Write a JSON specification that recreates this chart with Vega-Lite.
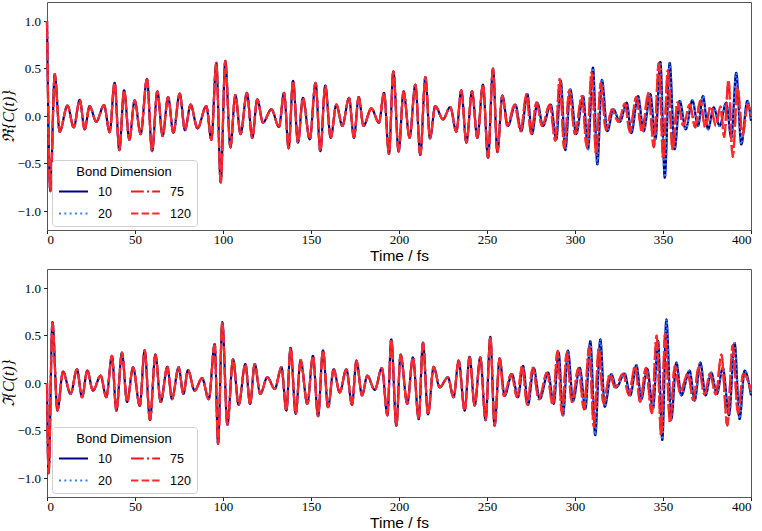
{
"$schema":"https://vega.github.io/schema/vega-lite/v6.json",
"padding":{"left":0,"top":1,"right":9,"bottom":0},
"spacing":3,
"datasets":{"d":[
{"p":"re","t":0,"b":1,"r":1},{"p":"re","t":1.9,"b":-0.79,"r":-0.79},{"p":"re","t":4.4,"b":0.44,"r":0.44},{"p":"re","t":7.2,"b":-0.165,"r":-0.165},{"p":"re","t":11.6,"b":0.11,"r":0.11},{"p":"re","t":15.2,"b":-0.12,"r":-0.12},{"p":"re","t":18.6,"b":0.17,"r":0.17},{"p":"re","t":21.4,"b":-0.14,"r":-0.14},{"p":"re","t":24.2,"b":0.105,"r":0.105},{"p":"re","t":28,"b":-0.06,"r":-0.06},{"p":"re","t":32.4,"b":0.115,"r":0.115},{"p":"re","t":35.6,"b":-0.17,"r":-0.17},{"p":"re","t":38.4,"b":0.35,"r":0.35},{"p":"re","t":41.1,"b":-0.36,"r":-0.36},{"p":"re","t":43.8,"b":0.27,"r":0.27},{"p":"re","t":46.8,"b":-0.25,"r":-0.25},{"p":"re","t":49.8,"b":0.165,"r":0.165},{"p":"re","t":53.2,"b":-0.19,"r":-0.19},{"p":"re","t":56.8,"b":0.39,"r":0.39},{"p":"re","t":59.7,"b":-0.37,"r":-0.37},{"p":"re","t":62.7,"b":0.26,"r":0.26},{"p":"re","t":65.7,"b":-0.21,"r":-0.21},{"p":"re","t":68.8,"b":0.2,"r":0.2},{"p":"re","t":71.8,"b":-0.175,"r":-0.175},{"p":"re","t":75.4,"b":0.235,"r":0.235},{"p":"re","t":78.4,"b":-0.15,"r":-0.15},{"p":"re","t":81.6,"b":0.12,"r":0.12},{"p":"re","t":85.5,"b":-0.13,"r":-0.13},{"p":"re","t":90.5,"b":0.105,"r":0.105},{"p":"re","t":93.4,"b":-0.25,"r":-0.25},{"p":"re","t":96.2,"b":0.56,"r":0.56},{"p":"re","t":98.7,"b":-0.7,"r":-0.7},{"p":"re","t":101.3,"b":0.58,"r":0.58},{"p":"re","t":104.2,"b":-0.33,"r":-0.33},{"p":"re","t":107,"b":0.22,"r":0.22},{"p":"re","t":110,"b":-0.19,"r":-0.19},{"p":"re","t":113.6,"b":0.245,"r":0.245},{"p":"re","t":116.6,"b":-0.23,"r":-0.23},{"p":"re","t":119.5,"b":0.175,"r":0.175},{"p":"re","t":122.7,"b":-0.07,"r":-0.07},{"p":"re","t":127.5,"b":0.07,"r":0.07},{"p":"re","t":131.8,"b":-0.115,"r":-0.115},{"p":"re","t":134.7,"b":0.245,"r":0.245},{"p":"re","t":137.3,"b":-0.34,"r":-0.34},{"p":"re","t":139.8,"b":0.37,"r":0.37},{"p":"re","t":142.6,"b":-0.28,"r":-0.28},{"p":"re","t":145.4,"b":0.19,"r":0.19},{"p":"re","t":149.3,"b":-0.245,"r":-0.245},{"p":"re","t":152.6,"b":0.35,"r":0.35},{"p":"re","t":155.3,"b":-0.37,"r":-0.37},{"p":"re","t":158.1,"b":0.32,"r":0.32},{"p":"re","t":161.2,"b":-0.23,"r":-0.23},{"p":"re","t":164.4,"b":0.12,"r":0.12},{"p":"re","t":167.8,"b":-0.105,"r":-0.105},{"p":"re","t":171.6,"b":0.19,"r":0.19},{"p":"re","t":174.4,"b":-0.23,"r":-0.23},{"p":"re","t":177.1,"b":0.2,"r":0.2},{"p":"re","t":179.8,"b":-0.105,"r":-0.105},{"p":"re","t":184.3,"b":0.08,"r":0.08},{"p":"re","t":188.6,"b":-0.07,"r":-0.07},{"p":"re","t":191.5,"b":0.245,"r":0.245},{"p":"re","t":194.3,"b":-0.4,"r":-0.4},{"p":"re","t":196.8,"b":0.47,"r":0.47},{"p":"re","t":199.8,"b":-0.375,"r":-0.375},{"p":"re","t":202.6,"b":0.26,"r":0.26},{"p":"re","t":206,"b":-0.23,"r":-0.23},{"p":"re","t":209.3,"b":0.33,"r":0.33},{"p":"re","t":212.1,"b":-0.41,"r":-0.41},{"p":"re","t":215,"b":0.41,"r":0.41},{"p":"re","t":217.6,"b":-0.235,"r":-0.235},{"p":"re","t":220.6,"b":0.105,"r":0.105},{"p":"re","t":225,"b":-0.035,"r":-0.035},{"p":"re","t":229.1,"b":0.095,"r":0.095},{"p":"re","t":232.6,"b":-0.165,"r":-0.165},{"p":"re","t":235.4,"b":0.27,"r":0.27},{"p":"re","t":238.3,"b":-0.28,"r":-0.28},{"p":"re","t":241.5,"b":0.26,"r":0.26},{"p":"re","t":244.5,"b":-0.23,"r":-0.23},{"p":"re","t":247.7,"b":0.33,"r":0.33},{"p":"re","t":250.6,"b":-0.44,"r":-0.44},{"p":"re","t":253.4,"b":0.5,"r":0.5},{"p":"re","t":255.9,"b":-0.38,"r":-0.38},{"p":"re","t":258.7,"b":0.215,"r":0.215},
{"p":"re","t":261.9,"b":-0.105},{"p":"re","t":266.1,"b":0.12},{"p":"re","t":269.5,"b":-0.16},{"p":"re","t":272.9,"b":0.23},{"p":"re","t":275.6,"b":-0.19},{"p":"re","t":278.6,"b":0.14},{"p":"re","t":281.8,"b":-0.105},{"p":"re","t":286.2,"b":0.12},{"p":"re","t":289.4,"b":-0.245},{"p":"re","t":291.9,"b":0.37},{"p":"re","t":294.5,"b":-0.36},{"p":"re","t":297.3,"b":0.28},{"p":"re","t":300.7,"b":-0.19},{"p":"re","t":304.6,"b":0.21},{"p":"re","t":307.4,"b":-0.35},{"p":"re","t":310.2,"b":0.51},{"p":"re","t":312.7,"b":-0.51},{"p":"re","t":315.3,"b":0.38},{"p":"re","t":318.4,"b":-0.16},{"p":"re","t":321.8,"b":0.07},{"p":"re","t":325.5,"b":-0.06},{"p":"re","t":329.4,"b":0.14},{"p":"re","t":332,"b":-0.18},{"p":"re","t":335.8,"b":0.21},{"p":"re","t":339,"b":-0.16},{"p":"re","t":342.8,"b":0.23},{"p":"re","t":345.7,"b":-0.245},{"p":"re","t":348.5,"b":0.57},{"p":"re","t":351,"b":-0.65},{"p":"re","t":353.8,"b":0.56},{"p":"re","t":356.6,"b":-0.35},{"p":"re","t":359.5,"b":0.16},{"p":"re","t":362.9,"b":-0.14},{"p":"re","t":366.7,"b":0.165},{"p":"re","t":369.9,"b":-0.105},{"p":"re","t":372.7,"b":0.21},{"p":"re","t":375.6,"b":-0.14},{"p":"re","t":378.8,"b":0.09},{"p":"re","t":382.2,"b":-0.105},{"p":"re","t":385.9,"b":0.14},{"p":"re","t":388.8,"b":-0.23},{"p":"re","t":391.6,"b":0.455},{"p":"re","t":394.5,"b":-0.3},{"p":"re","t":397.9,"b":0.16},{"p":"re","t":400,"b":-0.05},
{"p":"re","t":261.6,"r":-0.105},{"p":"re","t":265.7,"r":0.12},{"p":"re","t":269.1,"r":-0.16},{"p":"re","t":272.4,"r":0.23},{"p":"re","t":275.1,"r":-0.19},{"p":"re","t":278.1,"r":0.14},{"p":"re","t":281.3,"r":-0.105},{"p":"re","t":285.6,"r":0.12},{"p":"re","t":288.8,"r":-0.26},{"p":"re","t":291.3,"r":0.39},{"p":"re","t":293.9,"r":-0.34},{"p":"re","t":296.7,"r":0.27},{"p":"re","t":300,"r":-0.19},{"p":"re","t":303.9,"r":0.21},{"p":"re","t":306.7,"r":-0.33},{"p":"re","t":309.4,"r":0.46},{"p":"re","t":312,"r":-0.4},{"p":"re","t":314.6,"r":0.35},{"p":"re","t":317.6,"r":-0.15},{"p":"re","t":321,"r":0.07},{"p":"re","t":324.6,"r":-0.06},{"p":"re","t":328.4,"r":0.13},{"p":"re","t":331.1,"r":-0.17},{"p":"re","t":334.8,"r":0.2},{"p":"re","t":338,"r":-0.17},{"p":"re","t":341.7,"r":0.24},{"p":"re","t":344.8,"r":-0.33},{"p":"re","t":347.6,"r":0.56},{"p":"re","t":350.1,"r":-0.45},{"p":"re","t":352.7,"r":0.48},{"p":"re","t":355.4,"r":-0.35},{"p":"re","t":358.2,"r":0.14},{"p":"re","t":361.5,"r":-0.1},{"p":"re","t":365.2,"r":0.12},{"p":"re","t":368.3,"r":-0.12},{"p":"re","t":371.1,"r":0.16},{"p":"re","t":374,"r":-0.12},{"p":"re","t":377,"r":0.1},{"p":"re","t":380,"r":-0.1},{"p":"re","t":382.6,"r":0.1},{"p":"re","t":384.8,"r":-0.22},{"p":"re","t":387.2,"r":0.38},{"p":"re","t":389.6,"r":-0.43},{"p":"re","t":392.4,"r":0.3},{"p":"re","t":395.2,"r":-0.2},{"p":"re","t":398.2,"r":0.12},{"p":"re","t":400,"r":0},
{"p":"im","t":0,"b":0,"r":0},{"p":"im","t":0.9,"b":-0.95,"r":-0.95},{"p":"im","t":3.1,"b":0.64,"r":0.64},{"p":"im","t":5.9,"b":-0.29,"r":-0.29},{"p":"im","t":9.1,"b":0.12,"r":0.12},{"p":"im","t":13.4,"b":-0.115,"r":-0.115},{"p":"im","t":17,"b":0.145,"r":0.145},{"p":"im","t":19.9,"b":-0.15,"r":-0.15},{"p":"im","t":22.9,"b":0.13,"r":0.13},{"p":"im","t":26.1,"b":-0.08,"r":-0.08},{"p":"im","t":30.5,"b":0.077,"r":0.077},{"p":"im","t":33.7,"b":-0.15,"r":-0.15},{"p":"im","t":36.9,"b":0.285,"r":0.285},{"p":"im","t":39.4,"b":-0.29,"r":-0.29},{"p":"im","t":42.6,"b":0.32,"r":0.32},{"p":"im","t":45.5,"b":-0.2,"r":-0.2},{"p":"im","t":48.9,"b":0.165,"r":0.165},{"p":"im","t":52.7,"b":-0.24,"r":-0.24},{"p":"im","t":55.5,"b":0.345,"r":0.345},{"p":"im","t":58.5,"b":-0.39,"r":-0.39},{"p":"im","t":61.6,"b":0.3,"r":0.3},{"p":"im","t":64.6,"b":-0.2,"r":-0.2},{"p":"im","t":68.4,"b":0.17,"r":0.17},{"p":"im","t":71,"b":-0.17,"r":-0.17},{"p":"im","t":74.8,"b":0.165,"r":0.165},{"p":"im","t":77.5,"b":-0.115,"r":-0.115},{"p":"im","t":80.1,"b":0.136,"r":0.136},{"p":"im","t":83.9,"b":-0.08,"r":-0.08},{"p":"im","t":88.1,"b":0.052,"r":0.052},{"p":"im","t":91.9,"b":-0.17,"r":-0.17},{"p":"im","t":95.3,"b":0.41,"r":0.41},{"p":"im","t":97.2,"b":-0.64,"r":-0.64},{"p":"im","t":99.6,"b":0.64,"r":0.64},{"p":"im","t":102.5,"b":-0.44,"r":-0.44},{"p":"im","t":105.7,"b":0.25,"r":0.25},{"p":"im","t":108.9,"b":-0.23,"r":-0.23},{"p":"im","t":112.7,"b":0.2,"r":0.2},{"p":"im","t":115.4,"b":-0.22,"r":-0.22},{"p":"im","t":118,"b":0.2,"r":0.2},{"p":"im","t":121.2,"b":-0.115,"r":-0.115},{"p":"im","t":125.2,"b":0.06,"r":0.06},{"p":"im","t":129.4,"b":-0.063,"r":-0.063},{"p":"im","t":133.2,"b":0.165,"r":0.165},{"p":"im","t":136,"b":-0.29,"r":-0.29},{"p":"im","t":138.4,"b":0.37,"r":0.37},{"p":"im","t":141.3,"b":-0.325,"r":-0.325},{"p":"im","t":144.1,"b":0.24,"r":0.24},{"p":"im","t":147.9,"b":-0.22,"r":-0.22},{"p":"im","t":151.1,"b":0.285,"r":0.285},{"p":"im","t":154,"b":-0.35,"r":-0.35},{"p":"im","t":156.8,"b":0.345,"r":0.345},{"p":"im","t":159.7,"b":-0.255,"r":-0.255},{"p":"im","t":162.9,"b":0.145,"r":0.145},{"p":"im","t":166.3,"b":-0.1,"r":-0.1},{"p":"im","t":170.1,"b":0.145,"r":0.145},{"p":"im","t":173.3,"b":-0.23,"r":-0.23},{"p":"im","t":175.8,"b":0.235,"r":0.235},{"p":"im","t":179,"b":-0.13,"r":-0.13},{"p":"im","t":182,"b":0.077,"r":0.077},{"p":"im","t":186.2,"b":-0.073,"r":-0.073},{"p":"im","t":190.3,"b":0.157,"r":0.157},{"p":"im","t":193.4,"b":-0.34,"r":-0.34},{"p":"im","t":195.6,"b":0.46,"r":0.46},{"p":"im","t":198.5,"b":-0.45,"r":-0.45},{"p":"im","t":200.9,"b":0.3,"r":0.3},{"p":"im","t":204.7,"b":-0.22,"r":-0.22},{"p":"im","t":207.9,"b":0.27,"r":0.27},{"p":"im","t":211.2,"b":-0.38,"r":-0.38},{"p":"im","t":213.6,"b":0.425,"r":0.425},{"p":"im","t":216.5,"b":-0.33,"r":-0.33},{"p":"im","t":219.7,"b":0.17,"r":0.17},{"p":"im","t":223.1,"b":-0.045,"r":-0.045},{"p":"im","t":227.8,"b":0.06,"r":0.06},{"p":"im","t":231,"b":-0.15,"r":-0.15},{"p":"im","t":233.9,"b":0.235,"r":0.235},{"p":"im","t":237.3,"b":-0.29,"r":-0.29},{"p":"im","t":240.1,"b":0.275,"r":0.275},{"p":"im","t":243,"b":-0.237,"r":-0.237},{"p":"im","t":246.2,"b":0.27,"r":0.27},{"p":"im","t":249.2,"b":-0.39,"r":-0.39},{"p":"im","t":251.9,"b":0.485,"r":0.485},{"p":"im","t":254.3,"b":-0.45,"r":-0.45},{"p":"im","t":257.2,"b":0.26,"r":0.26},
{"p":"im","t":260,"b":-0.135},{"p":"im","t":264.2,"b":0.094},{"p":"im","t":267.6,"b":-0.15},{"p":"im","t":270.5,"b":0.18},{"p":"im","t":273.3,"b":-0.23},{"p":"im","t":276.5,"b":0.16},{"p":"im","t":280,"b":-0.17},{"p":"im","t":284.7,"b":0.11},{"p":"im","t":287.9,"b":-0.22},{"p":"im","t":290.7,"b":0.32},{"p":"im","t":293.2,"b":-0.34},{"p":"im","t":296,"b":0.34},{"p":"im","t":298.9,"b":-0.19},{"p":"im","t":302.7,"b":0.16},{"p":"im","t":305.9,"b":-0.27},{"p":"im","t":308.7,"b":0.44},{"p":"im","t":311.5,"b":-0.55},{"p":"im","t":314.4,"b":0.46},{"p":"im","t":316.9,"b":-0.25},{"p":"im","t":320.6,"b":0.094},{"p":"im","t":323.5,"b":-0.045},{"p":"im","t":328.2,"b":0.1},{"p":"im","t":331.4,"b":-0.13},{"p":"im","t":334.9,"b":0.188},{"p":"im","t":337.7,"b":-0.17},{"p":"im","t":341,"b":0.15},{"p":"im","t":344.3,"b":-0.27},{"p":"im","t":347.2,"b":0.443},{"p":"im","t":349.6,"b":-0.6},{"p":"im","t":351.9,"b":0.67},{"p":"im","t":354.7,"b":-0.38},{"p":"im","t":357.6,"b":0.216},{"p":"im","t":360.4,"b":-0.13},{"p":"im","t":365.1,"b":0.13},{"p":"im","t":368,"b":-0.185},{"p":"im","t":371.2,"b":0.216},{"p":"im","t":374.2,"b":-0.13},{"p":"im","t":377.4,"b":0.11},{"p":"im","t":380.6,"b":-0.115},{"p":"im","t":384,"b":0.16},{"p":"im","t":387.5,"b":-0.34},{"p":"im","t":390.7,"b":0.42},{"p":"im","t":393.5,"b":-0.38},{"p":"im","t":396.4,"b":0.13},{"p":"im","t":400,"b":-0.13},
{"p":"im","t":259.6,"r":-0.135},{"p":"im","t":263.7,"r":0.094},{"p":"im","t":267.1,"r":-0.15},{"p":"im","t":270,"r":0.18},{"p":"im","t":272.8,"r":-0.23},{"p":"im","t":276,"r":0.16},{"p":"im","t":279.4,"r":-0.17},{"p":"im","t":284.1,"r":0.11},{"p":"im","t":287.3,"r":-0.23},{"p":"im","t":290.1,"r":0.34},{"p":"im","t":292.6,"r":-0.33},{"p":"im","t":295.3,"r":0.32},{"p":"im","t":298.2,"r":-0.2},{"p":"im","t":302,"r":0.16},{"p":"im","t":305.1,"r":-0.28},{"p":"im","t":308,"r":0.38},{"p":"im","t":310.7,"r":-0.46},{"p":"im","t":313.5,"r":0.36},{"p":"im","t":316.2,"r":-0.22},{"p":"im","t":319.8,"r":0.094},{"p":"im","t":322.8,"r":-0.05},{"p":"im","t":327.3,"r":0.1},{"p":"im","t":330.6,"r":-0.13},{"p":"im","t":334.1,"r":0.18},{"p":"im","t":337,"r":-0.2},{"p":"im","t":340.3,"r":0.16},{"p":"im","t":343.6,"r":-0.32},{"p":"im","t":346.4,"r":0.5},{"p":"im","t":348.9,"r":-0.55},{"p":"im","t":351.2,"r":0.52},{"p":"im","t":354,"r":-0.42},{"p":"im","t":356.7,"r":0.18},{"p":"im","t":359.7,"r":-0.1},{"p":"im","t":364.1,"r":0.1},{"p":"im","t":367.2,"r":-0.18},{"p":"im","t":370.3,"r":0.17},{"p":"im","t":373.5,"r":-0.12},{"p":"im","t":376.7,"r":0.1},{"p":"im","t":380,"r":-0.12},{"p":"im","t":383.2,"r":0.3},{"p":"im","t":386.5,"r":-0.45},{"p":"im","t":389.6,"r":0.4},{"p":"im","t":392.6,"r":-0.32},{"p":"im","t":395.6,"r":0.1},{"p":"im","t":400,"r":-0.08}
]},
"data":{"name":"d"},
"vconcat":[
{"width":704,"height":228,
 "transform":[{"filter":"datum.p=='re'"}],
 "encoding":{"x":{"field":"t","type":"quantitative","scale":{"domain":[0,400],"nice":false},"axis":{"values":[0,50,100,150,200,250,300,350,400],"title":"Time / fs"}}},
 "layer":[
  {"transform":[{"filter":"isValid(datum.b)"}],"mark":{"type":"line","interpolate":"monotone","strokeWidth":2.2},
   "encoding":{"y":{"field":"b","type":"quantitative","scale":{"domain":[-1.2,1.2],"nice":false},"axis":{"values":[-1,-0.5,0,0.5,1],"format":".1f","title":"ℜ{C(t)}"}},
   "color":{"datum":"10","scale":{"domain":["10","20","75","120"],"range":["#00008b","#3380f5","#f01818","#ff2a2a"]},"legend":{"title":"Bond Dimension","orient":"none","legendX":5,"legendY":158,"columns":2,"symbolType":"stroke","symbolSize":841,"symbolStrokeWidth":2,"labelFont":"Liberation Sans","labelFontSize":12.5,"titleFont":"Liberation Sans","titleFontSize":13,"titleFontWeight":"normal","titleAnchor":"middle","titlePadding":-3,"fillColor":"white","strokeColor":"#d0d0d0","padding":6,"cornerRadius":3,"columnPadding":15,"rowPadding":-4,"labelOffset":9}},
   "strokeDash":{"datum":"10","scale":{"domain":["10","20","75","120"],"range":[[1,0],[2,3.3],[12.8,3.2,2,3.2],[7.4,3.2]]},"legend":{"title":"Bond Dimension","orient":"none","legendX":5,"legendY":158,"columns":2,"symbolType":"stroke","symbolSize":841,"symbolStrokeWidth":2,"labelFont":"Liberation Sans","labelFontSize":12.5,"titleFont":"Liberation Sans","titleFontSize":13,"titleFontWeight":"normal","titleAnchor":"middle","titlePadding":-3,"fillColor":"white","strokeColor":"#d0d0d0","padding":6,"cornerRadius":3,"columnPadding":15,"rowPadding":-4,"labelOffset":9}}}},
  {"transform":[{"filter":"isValid(datum.b)"}],"mark":{"type":"line","interpolate":"monotone","strokeWidth":2.2},
   "encoding":{"y":{"field":"b","type":"quantitative"},"color":{"datum":"20"},"strokeDash":{"datum":"20"}}},
  {"transform":[{"filter":"isValid(datum.r)"}],"mark":{"type":"line","interpolate":"monotone","strokeWidth":2.2},
   "encoding":{"y":{"field":"r","type":"quantitative"},"color":{"datum":"75"},"strokeDash":{"datum":"75"}}},
  {"transform":[{"filter":"isValid(datum.r)"}],"mark":{"type":"line","interpolate":"monotone","strokeWidth":2.2},
   "encoding":{"y":{"field":"r","type":"quantitative"},"color":{"datum":"120"},"strokeDash":{"datum":"120"}}}
 ]},
{"width":704,"height":228,
 "transform":[{"filter":"datum.p=='im'"}],
 "encoding":{"x":{"field":"t","type":"quantitative","scale":{"domain":[0,400],"nice":false},"axis":{"values":[0,50,100,150,200,250,300,350,400],"title":"Time / fs"}}},
 "layer":[
  {"transform":[{"filter":"isValid(datum.b)"}],"mark":{"type":"line","interpolate":"monotone","strokeWidth":2.2},
   "encoding":{"y":{"field":"b","type":"quantitative","scale":{"domain":[-1.2,1.2],"nice":false},"axis":{"values":[-1,-0.5,0,0.5,1],"format":".1f","title":"ℑ{C(t)}"}},
   "color":{"datum":"10","scale":{"domain":["10","20","75","120"],"range":["#00008b","#3380f5","#f01818","#ff2a2a"]},"legend":{"title":"Bond Dimension","orient":"none","legendX":5,"legendY":158,"columns":2,"symbolType":"stroke","symbolSize":841,"symbolStrokeWidth":2,"labelFont":"Liberation Sans","labelFontSize":12.5,"titleFont":"Liberation Sans","titleFontSize":13,"titleFontWeight":"normal","titleAnchor":"middle","titlePadding":-3,"fillColor":"white","strokeColor":"#d0d0d0","padding":6,"cornerRadius":3,"columnPadding":15,"rowPadding":-4,"labelOffset":9}},
   "strokeDash":{"datum":"10","scale":{"domain":["10","20","75","120"],"range":[[1,0],[2,3.3],[12.8,3.2,2,3.2],[7.4,3.2]]},"legend":{"title":"Bond Dimension","orient":"none","legendX":5,"legendY":158,"columns":2,"symbolType":"stroke","symbolSize":841,"symbolStrokeWidth":2,"labelFont":"Liberation Sans","labelFontSize":12.5,"titleFont":"Liberation Sans","titleFontSize":13,"titleFontWeight":"normal","titleAnchor":"middle","titlePadding":-3,"fillColor":"white","strokeColor":"#d0d0d0","padding":6,"cornerRadius":3,"columnPadding":15,"rowPadding":-4,"labelOffset":9}}}},
  {"transform":[{"filter":"isValid(datum.b)"}],"mark":{"type":"line","interpolate":"monotone","strokeWidth":2.2},
   "encoding":{"y":{"field":"b","type":"quantitative"},"color":{"datum":"20"},"strokeDash":{"datum":"20"}}},
  {"transform":[{"filter":"isValid(datum.r)"}],"mark":{"type":"line","interpolate":"monotone","strokeWidth":2.2},
   "encoding":{"y":{"field":"r","type":"quantitative"},"color":{"datum":"75"},"strokeDash":{"datum":"75"}}},
  {"transform":[{"filter":"isValid(datum.r)"}],"mark":{"type":"line","interpolate":"monotone","strokeWidth":2.2},
   "encoding":{"y":{"field":"r","type":"quantitative"},"color":{"datum":"120"},"strokeDash":{"datum":"120"}}}
 ]}
],
"resolve":{"legend":{"color":"independent","strokeDash":"independent"}},
"config":{
 "view":{"stroke":"#555555","strokeWidth":1},
 "axis":{"domain":false,"grid":false,"tickColor":"#222222","tickSize":3.5,"labelFont":"Liberation Serif","labelFontSize":13,"labelColor":"#000000","titleFont":"Liberation Sans","titleFontSize":15.5,"titleFontWeight":"normal","titleColor":"#000000"},
 "axisX":{"labelPadding":0,"titlePadding":2},
 "axisY":{"labelPadding":3,"titlePadding":0,"titleFont":"Liberation Serif","titleFontStyle":"italic","titleFontSize":16}
}
}
